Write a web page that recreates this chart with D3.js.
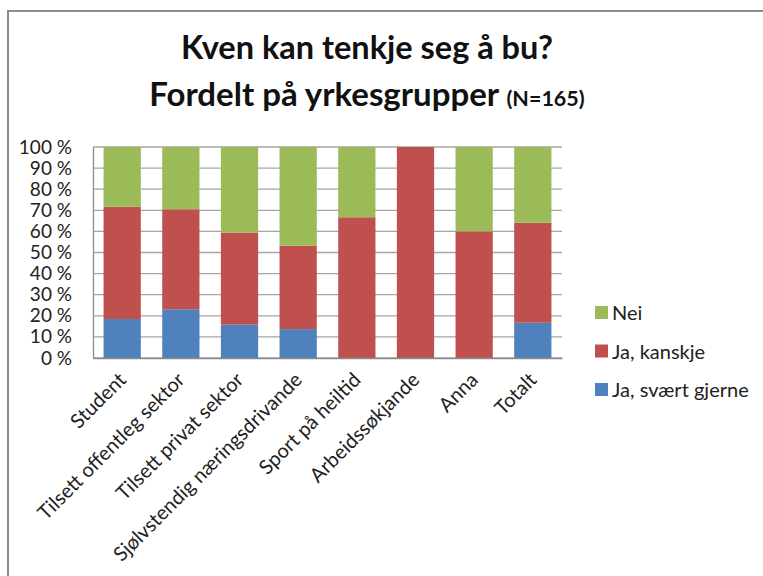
<!DOCTYPE html>
<html><head><meta charset="utf-8">
<script src="https://cdn.jsdelivr.net/npm/d3@7"></script>
<style>html,body{margin:0;background:#fff;overflow:hidden}svg{display:block}text{font-family:Lato,"Open Sans",sans-serif}</style>
</head><body><div id="c"></div>
<script>
const categories = ["Student","Tilsett offentleg sektor","Tilsett privat sektor","Sjølvstendig næringsdrivande","Sport på heiltid","Arbeidssøkjande","Anna","Totalt"];
const jaSvaertGjerne = [18.5, 23.1, 15.8, 13.7, 0, 0, 0, 16.7];
const jaKanskje = [53.2, 47.4, 43.6, 39.5, 66.7, 100, 60, 47.4];
const nei = [28.3, 29.5, 40.6, 46.8, 33.3, 0, 40, 35.9];
const seriesNames = ["Ja, svært gjerne","Ja, kanskje","Nei"];
const seriesColors = ["#4f81bd","#c0504d","#9bbb59"];
const yTicks = [0,10,20,30,40,50,60,70,80,90,100];

const W=763,H=576;
const svg=d3.select("#c").append("svg").attr("width",W).attr("height",H);
svg.append("path").attr("d",`M8,${H}V11H${W}`).attr("fill","none").attr("stroke","#8c8c8c").attr("stroke-width",2);

const m={l:93,r:562,t:147,b:358};
const x=d3.scaleBand().domain(categories).range([m.l,m.r]).paddingInner(0.365).paddingOuter(0.18);
const y=d3.scaleLinear().domain([0,100]).range([m.b,m.t]);

svg.append("g").selectAll("line").data(yTicks).join("line")
 .attr("x1",m.l).attr("x2",m.r).attr("y1",d=>y(d)).attr("y2",d=>y(d))
 .attr("stroke","#a6a6a6").attr("stroke-width",1.3);

const rows=categories.map((c,i)=>({cat:c,s0:jaSvaertGjerne[i],s1:jaKanskje[i],s2:nei[i]}));
const stack=d3.stack().keys(["s0","s1","s2"])(rows);
svg.append("g").selectAll("g").data(stack).join("g").attr("fill",(d,i)=>seriesColors[i])
 .selectAll("rect").data(d=>d).join("rect")
 .attr("x",d=>x(d.data.cat)).attr("width",x.bandwidth())
 .attr("y",d=>y(d[1])).attr("height",d=>y(d[0])-y(d[1]));

const ya=svg.append("g").attr("transform",`translate(${m.l},0)`)
 .call(d3.axisLeft(y).tickValues(yTicks).tickSize(0).tickPadding(21).tickFormat(d=>d+" %"));
ya.select(".domain").attr("stroke","#8c8c8c").attr("stroke-width",1.3);
ya.selectAll("text").attr("font-size",19).attr("fill","#222");

const xa=svg.append("g").attr("transform",`translate(0,${m.b})`)
 .call(d3.axisBottom(x).tickSize(0).tickFormat(d=>d));
xa.select(".domain").attr("stroke","#8c8c8c").attr("stroke-width",1.3);
xa.selectAll("text").attr("font-size",20).attr("fill","#222")
 .attr("text-anchor","end").attr("dy",0)
 .attr("transform","translate(3,21) rotate(-45)");

const t=svg.append("g").attr("font-weight","bold").attr("fill","#111");
t.append("text").attr("x",367).attr("y",59).attr("text-anchor","middle").attr("font-size",32.5).text("Kven kan tenkje seg å bu?");
const t2=t.append("text").attr("x",367).attr("y",106).attr("text-anchor","middle").attr("font-size",33);
t2.append("tspan").text("Fordelt på yrkesgrupper ");
t2.append("tspan").attr("font-size",21.5).text("(N=165)");

const leg=svg.append("g");
const legOrder=[2,1,0];
legOrder.forEach((si,k)=>{
  const ly=313+k*38.5;
  leg.append("rect").attr("x",595).attr("y",ly-7).attr("width",13).attr("height",13).attr("fill",seriesColors[si]);
  leg.append("text").attr("x",612).attr("y",ly).attr("dy","0.35em").attr("font-size",20).attr("fill","#222").text(seriesNames[si]);
});
</script></body></html>
